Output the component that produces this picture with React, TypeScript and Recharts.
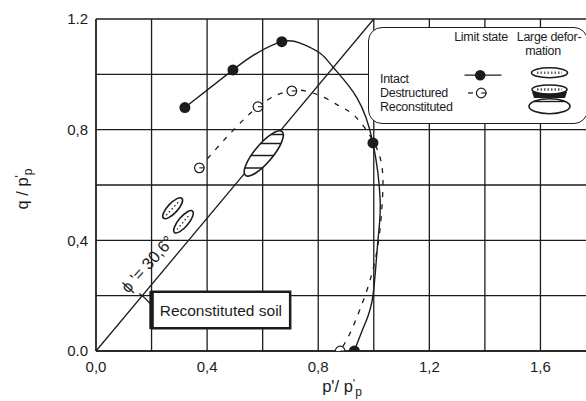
import {
  CartesianGrid,
  ComposedChart,
  Line,
  ReferenceArea,
  ReferenceLine,
  Scatter,
  XAxis,
  YAxis,
} from "recharts";

const FONT = '"Liberation Sans", Arial, sans-serif';
const INK = "#1c1c1c";

// axes: p'/p'p horizontally, q/p'p vertically
const xTicks = [0, 0.4, 0.8, 1.2, 1.6];
const xTickLabels = ["0,0", "0,4", "0,8", "1,2", "1,6"];
const yTicks = [0, 0.4, 0.8, 1.2];
const yTickLabels = ["0.0", "0,4", "0,8", "1.2"];
const xGrid = [0, 0.2, 0.4, 0.6, 0.8, 1.0, 1.2, 1.4, 1.6, 1.8];
const yGrid = [0, 0.2, 0.4, 0.6, 0.8, 1.0, 1.2];

// intact stress path
const intactP = [0.32, 0.493, 0.58, 0.669, 0.735, 0.807, 0.855, 0.939, 0.997, 1.023, 1.015, 0.997, 0.969, 0.93];
const intactQ = [0.88, 1.016, 1.077, 1.118, 1.113, 1.076, 1.024, 0.916, 0.752, 0.546, 0.4, 0.2, 0.1, 0];
// intact limit states
const intactLimitP = [0.32, 0.493, 0.669, 0.997, 0.93];
const intactLimitQ = [0.88, 1.016, 1.118, 0.752, 0];

// destructured stress path
const destrP = [0.372, 0.583, 0.705, 0.753, 0.818, 0.879, 0.933, 0.995, 1.03, 1.03, 1.016, 0.987, 0.95, 0.915, 0.879];
const destrQ = [0.662, 0.883, 0.94, 0.94, 0.918, 0.884, 0.848, 0.764, 0.663, 0.53, 0.39, 0.257, 0.15, 0.065, 0];
// destructured limit states
const destrLimitP = [0.372, 0.583, 0.705, 0.879];
const destrLimitQ = [0.662, 0.883, 0.94, 0];

// large deformation zones (centres)
const deformP = [0.276, 0.315, 0.604];
const deformQ = [0.516, 0.467, 0.714];

// critical state line, phi' = 30.6 deg
const cslEnd = { p: 1.0, q: 1.2 };

const zoneStyle = [
  { rx: 13.5, ry: 5, rot: -47, hatch: false },
  { rx: 14, ry: 5, rot: -50, hatch: false },
  { rx: 28.5, ry: 9, rot: -50, hatch: true },
];
const hatchOffsets = [-19, -10, 2, 14.5];

const toPts = (p: number[], q: number[]) => p.map((x, i) => ({ x, y: q[i] }));

const intactPath = toPts(intactP, intactQ);
const intactLimits = toPts(intactLimitP, intactLimitQ);
const destrPath = toPts(destrP, destrQ);
const destrLimits = toPts(destrLimitP, destrLimitQ);
const zones = deformP.map((x, i) => ({ x, y: deformQ[i], i }));
const phiAnchor = [{ x: 0.2, y: 0.3 }];
const origin = [{ x: 0, y: 0 }];

function FilledDot(props: any) {
  return <circle cx={props.cx} cy={props.cy} r={5.5} fill={INK} />;
}

function OpenDot(props: any) {
  return (
    <g>
      <circle cx={props.cx} cy={props.cy} r={4.8} fill="#fff" stroke={INK} strokeWidth={1.2} />
      <line x1={props.cx} y1={props.cy} x2={props.cx + 5} y2={props.cy} stroke={INK} strokeWidth={1.1} />
    </g>
  );
}

function Zone(props: any) {
  const { cx, cy, payload } = props;
  const s = zoneStyle[payload.i];
  const id = `zone-${payload.i}`;
  return (
    <g>
      <defs>
        <clipPath id={id}>
          <ellipse cx={cx} cy={cy} rx={s.rx} ry={s.ry} transform={`rotate(${s.rot} ${cx} ${cy})`} />
        </clipPath>
      </defs>
      <ellipse
        cx={cx}
        cy={cy}
        rx={s.rx}
        ry={s.ry}
        transform={`rotate(${s.rot} ${cx} ${cy})`}
        fill="#fff"
        stroke={INK}
        strokeWidth={1.6}
      />
      {s.hatch ? (
        hatchOffsets.map((d) => (
          <line
            key={d}
            x1={cx - 40}
            x2={cx + 40}
            y1={cy + d}
            y2={cy + d}
            stroke={INK}
            strokeWidth={1.5}
            clipPath={`url(#${id})`}
          />
        ))
      ) : (
        <line
          x1={cx - s.rx + 4}
          x2={cx + s.rx - 4}
          y1={cy}
          y2={cy}
          transform={`rotate(${s.rot} ${cx} ${cy})`}
          stroke={INK}
          strokeWidth={1.3}
          strokeDasharray="1.5 2.5"
        />
      )}
    </g>
  );
}

function PhiLabel(props: any) {
  return (
    <text
      transform={`translate(${props.cx},${props.cy}) rotate(-48)`}
      textAnchor="middle"
      fontFamily={FONT}
      fontSize={16.5}
      fill={INK}
    >
      ϕ '= 30,6°
    </text>
  );
}

// short angle arc around the origin, drawn across the critical state line
function AngleArc(props: any) {
  const r = 72;
  const a1 = (53 * Math.PI) / 180;
  const a2 = (41 * Math.PI) / 180;
  const x1 = props.cx + r * Math.cos(a1);
  const y1 = props.cy - r * Math.sin(a1);
  const x2 = props.cx + r * Math.cos(a2);
  const y2 = props.cy - r * Math.sin(a2);
  return <path d={`M${x1},${y1} A${r},${r} 0 0 1 ${x2},${y2}`} fill="none" stroke={INK} strokeWidth={1.2} />;
}

function XTitle(props: any) {
  const vb = props.viewBox;
  return (
    <text x={vb.x + vb.width / 2 - 4} y={vb.y + 41} textAnchor="middle" fontFamily={FONT} fontSize={16.5} fill={INK}>
      p'/ p
      <tspan dy={-4} fontSize={12}>'</tspan>
      <tspan dx={0} dy={8} fontSize={12}>p</tspan>
    </text>
  );
}

function YTitle(props: any) {
  const vb = props.viewBox;
  const x = vb.x + 28;
  const y = vb.y + vb.height / 2 + 4;
  return (
    <text transform={`translate(${x},${y}) rotate(-90)`} textAnchor="middle" fontFamily={FONT} fontSize={16.5} fill={INK}>
      q / p
      <tspan dy={-4} fontSize={12}>'</tspan>
      <tspan dx={0} dy={8} fontSize={12}>p</tspan>
    </text>
  );
}

function LegendBox() {
  const t = { fontFamily: FONT, fontSize: 12.5, fill: INK, letterSpacing: -0.3 };
  return (
    <div
      style={{
        position: "absolute",
        left: 368,
        top: 27,
        width: 220,
        height: 97,
        boxSizing: "border-box",
        border: `1.5px solid ${INK}`,
        borderRadius: 14,
        background: "#fff",
      }}
    >
      <svg width={220} height={97} style={{ position: "absolute", left: 0, top: 0 }}>
        <text {...t} x={112} y={13} textAnchor="middle">Limit state</text>
        <text {...t} x={180} y={13} textAnchor="middle">Large defor-</text>
        <text {...t} x={174} y={26.5} textAnchor="middle">mation</text>
        <text {...t} x={11} y={54.5}>Intact</text>
        <text {...t} x={11} y={68.5}>Destructured</text>
        <text {...t} x={11} y={83}>Reconstituted</text>

        <line x1={95.5} x2={132.5} y1={47.2} y2={47.2} stroke={INK} strokeWidth={1.3} />
        <circle cx={111.2} cy={47.2} r={5.3} fill={INK} />
        <line x1={99} x2={104} y1={65} y2={65} stroke={INK} strokeWidth={1.3} />
        <circle cx={112.2} cy={65} r={4.8} fill="#fff" stroke={INK} strokeWidth={1.2} />
        <line x1={112.2} x2={118} y1={65} y2={65} stroke={INK} strokeWidth={1.1} />

        <ellipse cx={180.5} cy={44.8} rx={18} ry={5} fill="#fff" stroke={INK} strokeWidth={1.6} />
        <line x1={168} x2={193} y1={44.8} y2={44.8} stroke="#666" strokeWidth={2.5} strokeDasharray="1.5 2" />
        <path d="M163 64 L198 64 L196 70 L165 70 Z" fill={INK} />
        <ellipse cx={180.5} cy={61.5} rx={17.5} ry={4.5} fill="#fff" stroke={INK} strokeWidth={1.6} />
        <line x1={168} x2={193} y1={61.5} y2={61.5} stroke="#555" strokeWidth={2.5} strokeDasharray="1.5 2" />
        <ellipse cx={180.5} cy={78.2} rx={20.5} ry={7.5} fill="#fff" stroke={INK} strokeWidth={1.6} />
        <line x1={165} x2={196} y1={73.5} y2={73.5} stroke={INK} strokeWidth={1.4} />
      </svg>
    </div>
  );
}

export default function App() {
  return (
    <div
      style={{
        position: "fixed",
        left: 0,
        top: 0,
        width: 586,
        height: 401,
        overflow: "hidden",
        background: "#fff",
      }}
    >
      <ComposedChart width={600} height={401} margin={{ top: 19, right: 4, bottom: 20, left: 0 }}>
        <CartesianGrid horizontalValues={yGrid} verticalValues={xGrid} stroke={INK} strokeWidth={1.3} />
        <XAxis
          type="number"
          dataKey="x"
          domain={[0, 1.8]}
          ticks={xTicks}
          interval={0}
          allowDataOverflow
          tickFormatter={(_v: number, i: number) => xTickLabels[i]}
          tick={{ fill: INK, fontSize: 15, fontFamily: FONT }}
          tickLine={false}
          tickMargin={4}
          axisLine={{ stroke: INK, strokeWidth: 1.3 }}
          height={30}
          label={<XTitle />}
        />
        <YAxis
          type="number"
          dataKey="y"
          domain={[0, 1.2]}
          ticks={yTicks}
          interval={0}
          allowDataOverflow
          tickFormatter={(_v: number, i: number) => yTickLabels[i]}
          tick={{ fill: INK, fontSize: 15, fontFamily: FONT }}
          tickLine={false}
          tickMargin={2}
          axisLine={{ stroke: INK, strokeWidth: 1.3 }}
          width={96}
          label={<YTitle />}
        />
        <ReferenceLine
          segment={[
            { x: 0, y: 0 },
            { x: cslEnd.p, y: cslEnd.q },
          ]}
          stroke={INK}
          strokeWidth={1.3}
        />
        <ReferenceArea
          x1={0.2}
          x2={0.699}
          y1={0.082}
          y2={0.214}
          fill="#fff"
          fillOpacity={1}
          stroke={INK}
          strokeWidth={2.5}
          label={{ value: "Reconstituted soil", position: "center", fill: INK, fontSize: 15.5, fontFamily: FONT }}
        />
        <ReferenceLine
          segment={[
            { x: 0.2, y: 0.08 },
            { x: 0.2, y: 0.216 },
          ]}
          stroke={INK}
          strokeWidth={4.5}
        />
        <Line
          data={destrPath}
          dataKey="y"
          type="natural"
          stroke={INK}
          strokeWidth={1.3}
          strokeDasharray="5 7"
          dot={false}
          activeDot={false}
          isAnimationActive={false}
        />
        <Line
          data={intactPath}
          dataKey="y"
          type="natural"
          stroke={INK}
          strokeWidth={1.4}
          dot={false}
          activeDot={false}
          isAnimationActive={false}
        />
        <Scatter data={zones} shape={Zone} isAnimationActive={false} />
        <Scatter data={destrLimits} shape={OpenDot} isAnimationActive={false} />
        <Scatter data={intactLimits} shape={FilledDot} isAnimationActive={false} />
        <Scatter data={phiAnchor} shape={PhiLabel} isAnimationActive={false} />
        <Scatter data={origin} shape={AngleArc} isAnimationActive={false} />
      </ComposedChart>
      <LegendBox />
    </div>
  );
}
